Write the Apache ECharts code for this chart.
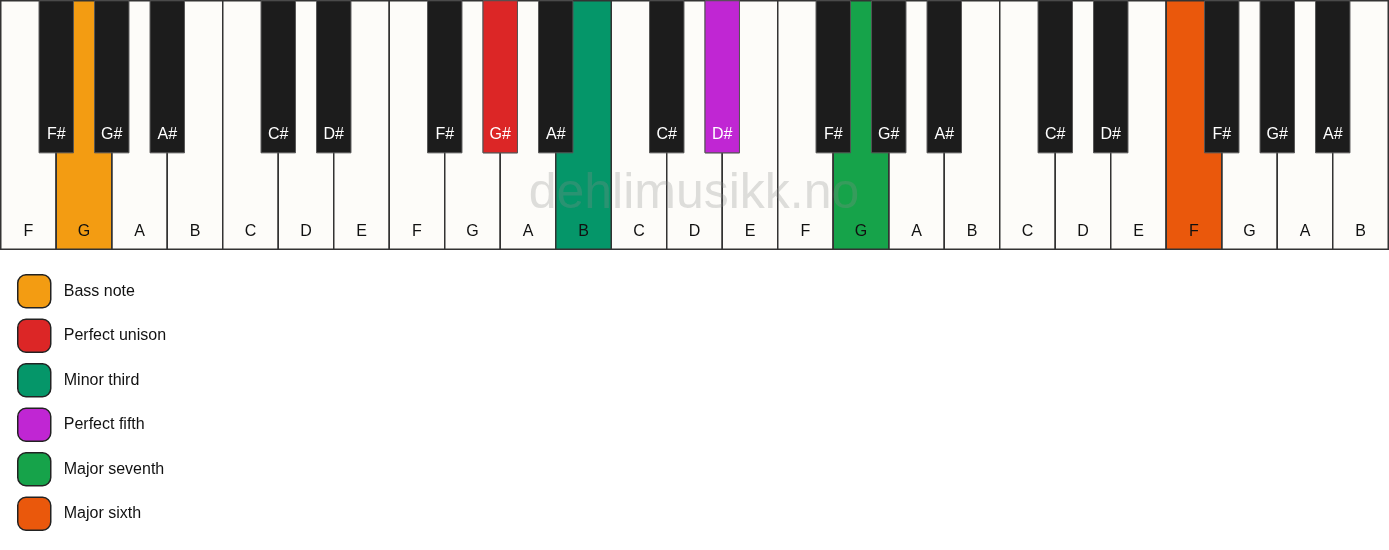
<!DOCTYPE html>
<html>
<head>
<meta charset="utf-8">
<script src="https://cdn.jsdelivr.net/npm/echarts@6/dist/echarts.min.js"></script>
<style>
html,body{margin:0;padding:0;background:#fff;}
#chart{width:1389px;height:550px;}
</style>
</head>
<body>
<div id="chart"></div>
<script>
// ---- data ----
const whiteNotes = ['F','G','A','B','C','D','E','F','G','A','B','C','D','E','F','G','A','B','C','D','E','F','G','A','B'];
const blackNotes = ['F#','G#','A#','C#','D#','F#','G#','A#','C#','D#','F#','G#','A#','C#','D#','F#','G#','A#'];
// boundary (in white-key units) at which each black key is centred
const blackPositions = [1,2,3,5,6,8,9,10,12,13,15,16,17,19,20,22,23,24];

const intervalNames  = ['Bass note','Perfect unison','Minor third','Perfect fifth','Major seventh','Major sixth'];
const intervalColors = ['#F39C12','#DC2626','#059669','#C026D3','#16A34A','#EA580C'];
const intervalKeyType = ['white','black','white','black','white','white'];
// white key index, or black key boundary position
const intervalKeyPos = [1, 9, 10, 13, 15, 21];

// ---- styles ----
const WHITE_FILL = '#FDFCF9';
const BLACK_FILL = '#1C1C1C';
const BLACK_RATIO = 0.612;   // black key height relative to white
const BLACK_WIDTH = 0.62;    // in white-key units
const FONT = 'Liberation Sans, Arial, sans-serif';

function whiteKey(params, api, fill, label) {
  const x = api.value(0);
  const a = api.coord([x, 1]);
  const b = api.coord([x + 1, 0]);
  return {
    type: 'group',
    children: [
      { type: 'rect', shape: { x: a[0], y: a[1], width: b[0] - a[0], height: b[1] - a[1] },
        style: { fill: fill, stroke: '#333', lineWidth: 1.5 } },
      { type: 'text', style: { text: label, x: (a[0] + b[0]) / 2, y: b[1] - 18,
        align: 'center', verticalAlign: 'middle', fill: '#111', font: '16px ' + FONT } }
    ]
  };
}
function blackKey(params, api, fill, label) {
  const x = api.value(0);
  const a = api.coord([x - BLACK_WIDTH / 2, 1]);
  const b = api.coord([x + BLACK_WIDTH / 2, 1 - BLACK_RATIO]);
  return {
    type: 'group',
    children: [
      { type: 'rect', shape: { x: a[0], y: a[1], width: b[0] - a[0], height: b[1] - a[1] },
        style: { fill: fill, stroke: '#555', lineWidth: 1 } },
      { type: 'text', style: { text: label, x: (a[0] + b[0]) / 2, y: b[1] - 18,
        align: 'center', verticalAlign: 'middle', fill: '#fff', font: '16px ' + FONT } }
    ]
  };
}

const series = [];
series.push({
  type: 'custom', name: 'white', z: 1, silent: true,
  data: whiteNotes.map((n, i) => ({ value: [i], name: n })),
  renderItem: (p, api) => whiteKey(p, api, WHITE_FILL, whiteNotes[p.dataIndex])
});
series.push({
  type: 'custom', name: 'black', z: 3, silent: true,
  data: blackPositions.map((pos, i) => ({ value: [pos], name: blackNotes[i] })),
  renderItem: (p, api) => blackKey(p, api, BLACK_FILL, blackNotes[p.dataIndex])
});
intervalNames.forEach((nm, k) => {
  const isBlack = intervalKeyType[k] === 'black';
  const pos = intervalKeyPos[k];
  const label = isBlack ? blackNotes[blackPositions.indexOf(pos)] : whiteNotes[pos];
  series.push({
    type: 'custom', name: nm, z: isBlack ? 4 : 2, silent: true,
    itemStyle: { color: intervalColors[k] },
    data: [{ value: [pos], name: label }],
    renderItem: (p, api) => isBlack ? blackKey(p, api, intervalColors[k], label)
                                    : whiteKey(p, api, intervalColors[k], label)
  });
});

const chart = echarts.init(document.getElementById('chart'));
chart.setOption({
  animation: false,
  backgroundColor: '#fff',
  grid: { left: 0.75, right: 0.75, top: 0.75, height: 248.5 },
  xAxis: { type: 'value', min: 0, max: whiteNotes.length, show: false },
  yAxis: { type: 'value', min: 0, max: 1, show: false },
  legend: {
    orient: 'vertical', left: 17, top: 274, padding: 0,
    itemWidth: 33, itemHeight: 33, itemGap: 10, selectedMode: false,
    icon: 'roundRect',
    textStyle: { fontSize: 16, color: '#111', fontFamily: FONT, padding: [0, 0, 0, 8] },
    data: intervalNames.map((n, k) => ({ name: n, itemStyle: { color: intervalColors[k], borderColor: '#222', borderWidth: 1.5 } }))
  },
  graphic: [{
    type: 'text', z: 100, silent: true,
    style: { text: 'dehlimusikk.no', x: 694, y: 194, align: 'center', verticalAlign: 'middle',
      fill: 'rgba(140,140,140,0.28)', font: '50px ' + FONT }
  }],
  series: series
});
</script>
</body>
</html>
